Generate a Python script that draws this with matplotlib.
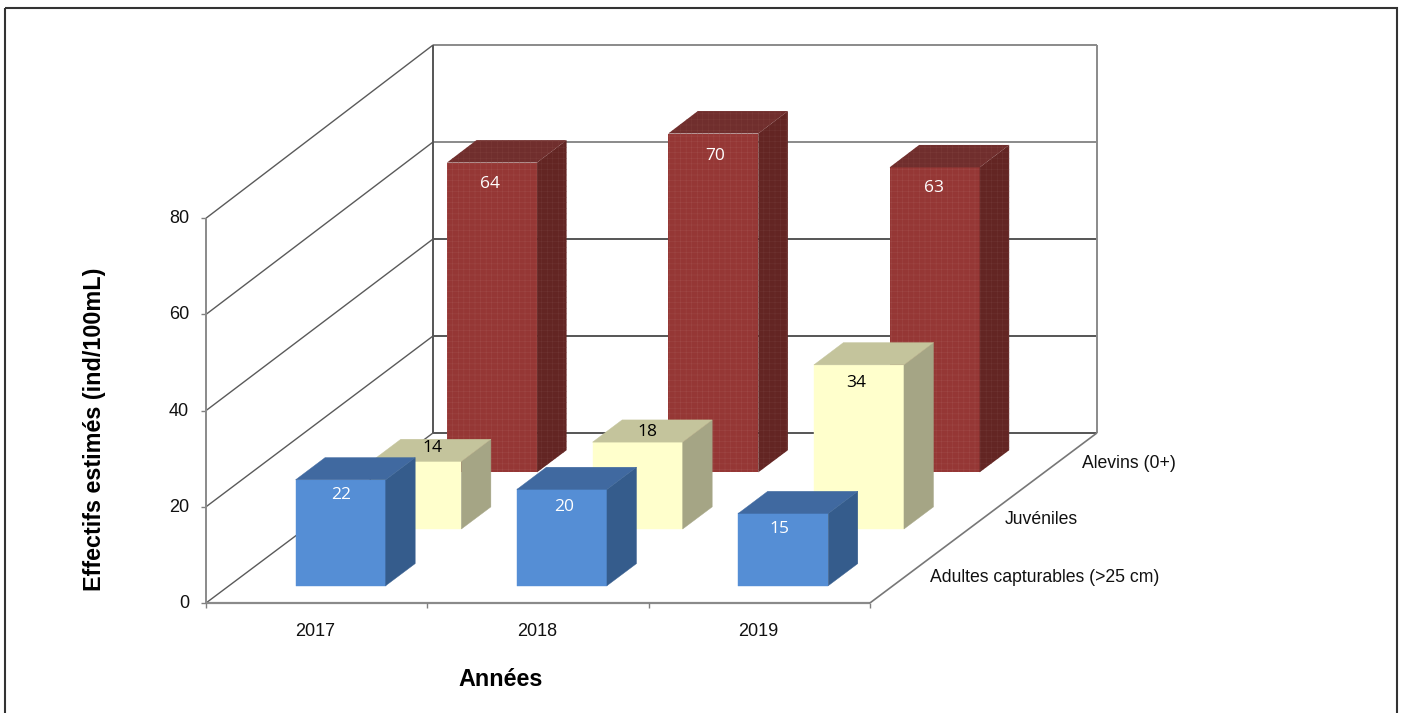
# -*- coding: utf-8 -*-
import matplotlib
matplotlib.use('Agg')
import matplotlib.pyplot as plt
from matplotlib.patches import Polygon, Rectangle

# data
years = ['2017', '2018', '2019']
series_names = ['Adultes capturables (>25 cm)', 'Juvéniles', 'Alevins (0+)']
adultes = [22, 20, 15]
juveniles = [14, 18, 34]
alevins = [64, 70, 63]
y_ticks = [0, 20, 40, 60, 80]

# hand placed labels of the original (pixels, from front top centre of bar)
label_dx = {0: [1, 2, -4], 1: [16, 10, -3], 2: [-2, 2, -1]}
label_dy = {0: [15, 18, 16], 1: [-13, -10, 18], 2: [21, 22, 21]}

front = {0: '#558ed5', 1: '#ffffcc', 2: '#953735'}
top = {0: '#4069a0', 1: '#c4c49c', 2: '#702e2d'}
side = {0: '#355c8c', 1: '#a5a585', 2: '#632523'}
red_hatch = {'front': '#a04c49', 'side': '#713836', 'top': '#7d3d3b'}
text_col = {0: 'white', 1: 'black', 2: 'white'}

plt.rcParams['hatch.linewidth'] = 0.3

fig = plt.figure(figsize=(14.02, 7.13), dpi=100)
ax = fig.add_axes([0, 0, 1, 1])
ax.set_xlim(0, 1402)
ax.set_ylim(713, 0)
ax.axis('off')


def proj(x, d, v):
    # x = category position 0..3, d = series depth 0..3, v = value
    px = 206 + 221.3 * x + 75.7 * d
    py = 603 - 56.7 * d - (4.81 + 0.013 * d) * v
    return px, py


def line(p, q, c='#6e6e6e', lw=1.2):
    ax.plot([p[0], q[0]], [p[1], q[1]], color=c, lw=lw, solid_capstyle='butt', zorder=1)


# frame
ax.add_patch(Rectangle((5, 7.5), 1392, 720, fill=False, ec='#333333', lw=1.5, zorder=0))

# walls and grid
for v in y_ticks:
    c = '#555555' if v <= 40 else '#8a8a8a'
    line(proj(0, 0, v), proj(0, 3, v), '#5a5a5a', 1.0)
    line(proj(0, 3, v), proj(3, 3, v), c, 1.4)
    line((proj(0, 0, v)[0] - 5, proj(0, 0, v)[1]), proj(0, 0, v), '#808080', 1.0)
    ax.text(189, proj(0, 0, v)[1] + 0.5, str(v), ha='right', va='center',
            family='Liberation Sans', fontsize=13, color='#111111')
line(proj(0, 0, 0), proj(0, 0, 80), '#8a8a8a', 1.4)
line(proj(0, 3, 0), proj(0, 3, 80), '#555555', 1.4)
line(proj(3, 3, 0), proj(3, 3, 80), '#8a8a8a', 1.4)
line(proj(0, 0, 0), proj(3, 0, 0), '#8a8a8a', 1.6)
line(proj(3, 0, 0), proj(3, 3, 0), '#777777', 1.2)
for i in range(4):
    p = proj(i, 0, 0)
    line(p, (p[0], p[1] + 5), '#808080', 1.0)

# bars, back row first
bar_w = 0.407
bar_d = 0.39
values = [adultes, juveniles, alevins]
for s in [2, 1, 0]:
    for i, val in enumerate(values[s]):
        x0 = i + (1 - bar_w) / 2 + 0.004
        x1 = x0 + bar_w
        d0 = s + (1 - bar_d) / 2
        d1 = d0 + bar_d
        faces = [
            ('front', [(x0, d0, 0), (x1, d0, 0), (x1, d0, val), (x0, d0, val)], front[s]),
            ('side', [(x1, d0, 0), (x1, d1, 0), (x1, d1, val), (x1, d0, val)], side[s]),
            ('top', [(x0, d0, val), (x1, d0, val), (x1, d1, val), (x0, d1, val)], top[s]),
        ]
        for name, pts, col in faces:
            xy = [proj(*p) for p in pts]
            if s == 2:
                ax.add_patch(Polygon(xy, fc=col, ec=red_hatch[name], hatch='+++', lw=0, zorder=2))
            else:
                ax.add_patch(Polygon(xy, fc=col, ec=col, lw=0.3, zorder=2 + (2 - s)))
        tx, ty = proj((x0 + x1) / 2, d0, val)
        ax.text(tx + label_dx[s][i], ty + label_dy[s][i], str(val), ha='center', va='center',
                family='Open Sans', fontsize=12.5, color=text_col[s], zorder=6)

# category labels
for i, y in enumerate(years):
    ax.text(proj(i + 0.495, 0, 0)[0], 632, y, ha='center', va='center',
            family='Liberation Sans', fontsize=13, color='#111111')

# series labels
for name, lx, ly in zip(series_names, [930, 1005, 1082], [577, 520, 463]):
    ax.text(lx, ly, name, ha='left', va='center', family='Liberation Sans',
            fontsize=12.7, color='#111111')

ax.text(95, 429, 'Effectifs estimés (ind/100mL)', rotation=90, ha='center', va='center',
        family='Liberation Sans', fontweight='bold', fontsize=16.8, color='black')
ax.text(501, 680, 'Années', ha='center', va='center', family='Liberation Sans',
        fontweight='bold', fontsize=16.8, color='black')

fig.savefig('out.png', dpi=100)
